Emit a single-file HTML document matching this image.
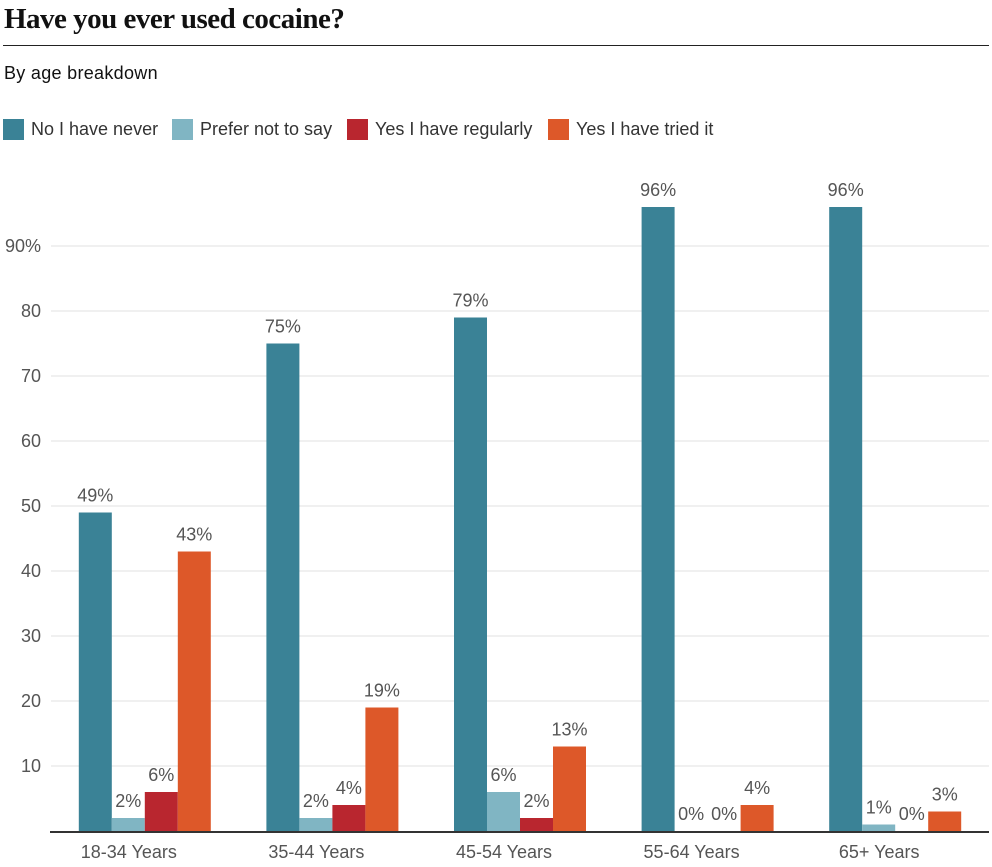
<!DOCTYPE html>
<html><head><meta charset="utf-8"><style>
body{margin:0;background:#fff;width:992px;height:867px;overflow:hidden;font-family:"Liberation Sans",sans-serif}
#title{position:absolute;left:4px;top:3px;font-family:"Liberation Serif",serif;font-weight:bold;font-size:29px;color:#111;letter-spacing:-0.5px}
#rule{position:absolute;left:3px;top:45px;width:986px;height:1px;background:#222}
#sub{position:absolute;left:4px;top:63px;font-size:18px;color:#111;letter-spacing:0.3px}
.leg{position:absolute;top:119px;font-size:18px;color:#333;display:flex;align-items:center}
.sw{width:21px;height:21px;margin-right:7px}
</style></head><body>
<div id="title">Have you ever used cocaine?</div>
<div id="rule"></div>
<div id="sub">By age breakdown</div>
<div class="leg" style="left:3px"><div class="sw" style="background:#3a8296"></div>No I have never</div>
<div class="leg" style="left:172px"><div class="sw" style="background:#80b5c3"></div>Prefer not to say</div>
<div class="leg" style="left:347px"><div class="sw" style="background:#b9262f"></div>Yes I have regularly</div>
<div class="leg" style="left:548px"><div class="sw" style="background:#dd5829"></div>Yes I have tried it</div>
<svg id="chart" width="992" height="867" style="position:absolute;left:0;top:0"></svg>
<script>
const categories=["18-34 Years","35-44 Years","45-54 Years","55-64 Years","65+ Years"];
const never=[49,75,79,96,96];
const preferNot=[2,2,6,0,1];
const regularly=[6,4,2,0,0];
const tried=[43,19,13,4,3];
const yTicks=[10,20,30,40,50,60,70,80,90];
const series=[never,preferNot,regularly,tried];
const colors=["#3a8296","#80b5c3","#b9262f","#dd5829"];
const svg=document.getElementById('chart');
const NS="http://www.w3.org/2000/svg";
const x0=51,x1=989,y0=831,pxPerUnit=6.5;
const y=v=>y0-v*pxPerUnit;
const band=(x1-x0)/categories.length;
const bw=33;
function mk(t,a){const e=document.createElementNS(NS,t);for(const k in a)e.setAttribute(k,a[k]);svg.appendChild(e);return e;}
yTicks.forEach((t,i)=>{
  const g=mk('line',{x1:x0,x2:x1,y1:y(t),y2:y(t),stroke:'#e2e2e2','stroke-width':1});
  
  
  const l=mk('text',{x:41,y:y(t)+6,'text-anchor':'end','font-size':18,fill:'#555','font-family':'Liberation Sans, sans-serif'});
  l.textContent=t+(i===yTicks.length-1?'%':'');
  
  
});
categories.forEach((c,ci)=>{
  const cx=x0+band*(ci+0.5);
  series.forEach((s,si)=>{
    const bx=cx-2*bw+si*bw;
    const v=s[ci];
    const r=mk('rect',{x:bx,y:y(v),width:bw,height:v*pxPerUnit,fill:colors[si]});
    
    
    const t=mk('text',{x:bx+bw/2,y:y(v)-11,'text-anchor':'middle','font-size':18,fill:'#555','font-family':'Liberation Sans, sans-serif'});
    t.textContent=v+'%';
    
    
  });
  const cl=mk('text',{x:cx-16,y:858,'text-anchor':'middle','font-size':18,fill:'#555','font-family':'Liberation Sans, sans-serif'});
  cl.textContent=c;
  
  
});
const ax=mk('line',{x1:x0-1,x2:x1,y1:y0+1,y2:y0+1,stroke:'#333','stroke-width':2});


</script>
</body></html>
